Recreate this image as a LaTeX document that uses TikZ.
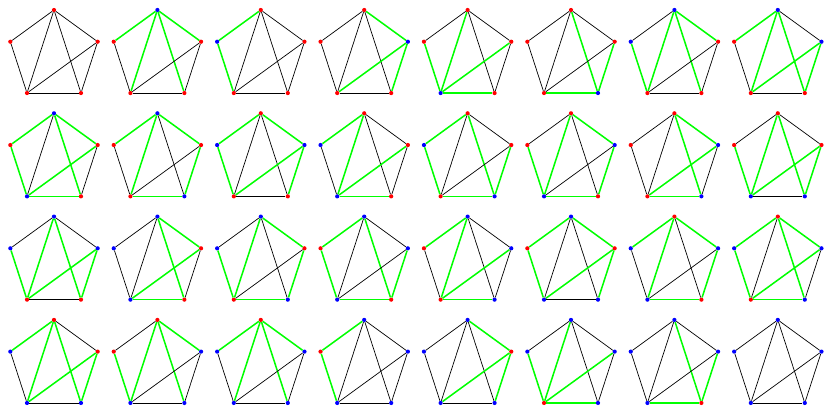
\documentclass[tikz,border=0pt]{standalone}
\tikzset{
  keep/.style={draw=black, line width=0.6pt},
  cut/.style={draw=green, line width=1.3pt},
  vert/.style={circle, inner sep=0pt, minimum size=3.6pt},
}
% vertex colour: 0 = red, 1 = blue
\newcommand{\vcol}[1]{\ifnum#1=0 red\else blue\fi}
\newcommand{\link}[4]{\ifnum#3=#4\relax\draw[keep] (#1)--(#2);\else\draw[cut] (#1)--(#2);\fi}
\newcommand{\pentagon}[7]{%
  \begin{scope}[shift={(#1,#2)}]
    \node[vert, fill=\vcol{#3}] (t) at (270:45.9) {};
    \node[vert, fill=\vcol{#4}] (l) at (198:45.9) {};
    \node[vert, fill=\vcol{#5}] (r) at (342:45.9) {};
    \node[vert, fill=\vcol{#6}] (bl) at (126:45.9) {};
    \node[vert, fill=\vcol{#7}] (br) at (54:45.9) {};
    \link{t}{l}{#3}{#4}
    \link{t}{r}{#3}{#5}
    \link{l}{bl}{#4}{#6}
    \link{r}{br}{#5}{#7}
    \link{bl}{br}{#6}{#7}
    \link{t}{bl}{#3}{#6}
    \link{t}{br}{#3}{#7}
    \link{bl}{r}{#6}{#5}
  \end{scope}}
\begin{document}
\begin{tikzpicture}[x=0.03cm, y=-0.03cm]
  \useasboundingbox (0,0) rectangle (824,407);
  \foreach \a/\b/\c/\d/\e [count=\i from 0] in {
      0/0/0/0/0, 1/0/0/0/0, 0/1/0/0/0, 0/0/1/0/0, 0/0/0/1/0, 0/0/0/0/1, 1/1/0/0/0, 1/0/1/0/0,
      1/0/0/1/0, 1/0/0/0/1, 0/1/1/0/0, 0/1/0/1/0, 0/1/0/0/1, 0/0/1/1/0, 0/0/1/0/1, 0/0/0/1/1,
      1/1/1/0/0, 1/1/0/1/0, 1/1/0/0/1, 1/0/1/1/0, 1/0/1/0/1, 1/0/0/1/1, 0/1/1/1/0, 0/1/1/0/1,
      0/1/0/1/1, 0/0/1/1/1, 0/1/1/1/1, 1/0/1/1/1, 1/1/0/1/1, 1/1/1/0/1, 1/1/1/1/0, 1/1/1/1/1} {
    \pgfmathsetmacro\cx{54+103.4*mod(\i,8)}
    \pgfmathsetmacro\cy{55.9+103.3*floor(\i/8)}
    \pentagon{\cx}{\cy}{\a}{\b}{\c}{\d}{\e}
  }
\end{tikzpicture}
\end{document}
